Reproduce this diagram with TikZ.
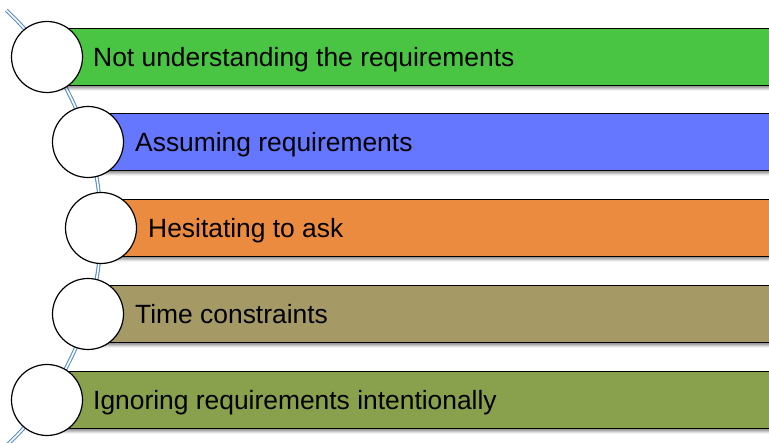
\documentclass[tikz,border=0pt]{standalone}
\usepackage{fontspec}
\setmainfont{Liberation Sans}
\usepackage{tikz}
\usetikzlibrary{shadows.blur}

\definecolor{barGreen}{HTML}{4AC443}
\definecolor{barBlue}{HTML}{6677FF}
\definecolor{barOrange}{HTML}{EB8B3F}
\definecolor{barKhaki}{HTML}{A59A66}
\definecolor{barOlive}{HTML}{89A04D}
\definecolor{arcBlue}{HTML}{5B8DC8}

\begin{document}
\begin{tikzpicture}[x=1pt, y=-1pt,
    bar/.style={rectangle, draw=black, line width=1.4pt, anchor=west,
      minimum width=800pt, minimum height=57pt, inner sep=0pt,
      blur shadow={shadow xshift=0pt, shadow yshift=-3pt, shadow blur radius=2.5pt, shadow opacity=45}},
    bullet/.style={circle, draw=black, line width=1.2pt, fill=white,
      minimum size=71pt, inner sep=0pt},
    label/.style={anchor=base west, inner sep=0pt, font=\fontsize{26.4}{31}\selectfont},
    spine/.style={draw=arcBlue, double=white, double distance=1.6pt, line width=1.1pt}]
  \clip (0,0) rectangle (769,443);
  % Curved spine behind the bullets
  \coordinate (hub) at (-196.7,228);
  \draw[spine] plot[domain=-47:47, samples=80, smooth]
    ({-196.7+297.7*cos(\x)}, {228+297.7*sin(\x)});
  % Bars
  \node[bar, fill=barGreen]  (bar1) at (47,57)  {};
  \node[bar, fill=barBlue]   (bar2) at (88,142) {};
  \node[bar, fill=barOrange] (bar3) at (101,228) {};
  \node[bar, fill=barKhaki]  (bar4) at (88,314) {};
  \node[bar, fill=barOlive]  (bar5) at (47,400) {};
  % Bullets
  \node[bullet] (dot1) at (bar1.west) {};
  \node[bullet] (dot2) at (bar2.west) {};
  \node[bullet] (dot3) at (bar3.west) {};
  \node[bullet] (dot4) at (bar4.west) {};
  \node[bullet] (dot5) at (bar5.west) {};
  % Texts
  \node[label] (txt1) at (93,66.5)  {Not understanding the requirements};
  \node[label] (txt2) at (135,151.5) {Assuming requirements};
  \node[label] (txt3) at (148,237.5) {Hesitating to ask};
  \node[label] (txt4) at (135,323.5) {Time constraints};
  \node[label] (txt5) at (93,409.5)  {Ignoring requirements intentionally};
\end{tikzpicture}
\end{document}
